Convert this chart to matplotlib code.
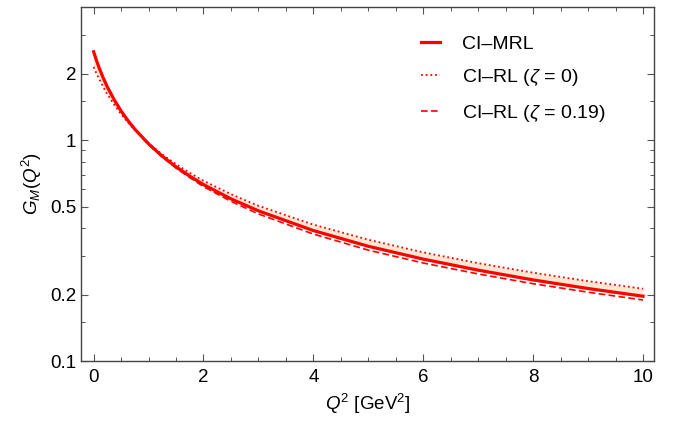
import matplotlib
matplotlib.use('Agg')
import matplotlib.pyplot as plt
from matplotlib.ticker import FixedLocator, NullFormatter

plt.rcParams['font.family'] = ['Liberation Sans', 'DejaVu Sans']
plt.rcParams['mathtext.fontset'] = 'custom'
plt.rcParams['mathtext.rm'] = 'Liberation Sans'
plt.rcParams['mathtext.it'] = 'Liberation Sans:italic'

# Q^2 grid [GeV^2] and G_M values
q2 = [0, 0.05, 0.1, 0.175, 0.25, 0.375, 0.5, 0.625, 0.75, 1, 1.25, 1.5, 1.75,
      2, 2.5, 3, 4, 5, 6, 7, 8, 9, 10]
g_mrl = [2.52, 2.308, 2.132, 1.918, 1.746, 1.526, 1.359, 1.229, 1.124, 0.964,
         0.847, 0.758, 0.688, 0.630, 0.543, 0.479, 0.390, 0.331, 0.2895,
         0.258, 0.233, 0.213, 0.1966]
g_rl0 = [2.15, 2.014, 1.896, 1.745, 1.619, 1.448, 1.313, 1.204, 1.113, 0.970,
         0.863, 0.780, 0.712, 0.656, 0.570, 0.505, 0.415, 0.3545, 0.3107,
         0.2775, 0.2513, 0.2301, 0.2126]
g_rl19 = [2.52, 2.305, 2.13, 1.916, 1.745, 1.523, 1.355, 1.224, 1.118, 0.955,
          0.84, 0.748, 0.678, 0.617, 0.529, 0.464, 0.376, 0.318, 0.278,
          0.248, 0.224, 0.205, 0.189]

labels = ['CI\u2013MRL', 'CI\u2013RL ($\\zeta$ = 0)', 'CI\u2013RL ($\\zeta$ = 0.19)']
red = '#ff0000'

fig = plt.figure(figsize=(6.88, 4.21), dpi=100)
ax = fig.add_axes([0.1177, 0.1425, 0.9506 - 0.1177, 0.9834 - 0.1425])

ax.fill_between(q2, g_mrl, g_rl0, color='#fae8d2', lw=0)
ax.plot(q2, g_mrl, color=red, lw=2.3, label=labels[0])
ax.plot(q2, g_rl0, color=red, lw=1.3, ls=(0, (1, 1.6)), label=labels[1])
ax.plot(q2, g_rl19, color=red, lw=1.2, ls=(0, (4, 2)), label=labels[2])

ax.set_yscale('log')
ax.set_xlim(-0.23, 10.2)
ax.set_ylim(0.1, 4.02)

ax.set_xticks([0, 2, 4, 6, 8, 10])
ax.set_xticklabels(['0', '2', '4', '6', '8', '10'])
ax.xaxis.set_minor_locator(FixedLocator([0.5 * i for i in range(21)]))
ax.yaxis.set_major_locator(FixedLocator([0.1, 0.2, 0.5, 1, 2]))
ax.set_yticklabels(['0.1', '0.2', '0.5', '1', '2'])
ax.yaxis.set_minor_locator(FixedLocator([0.15, 0.3, 0.4, 0.6, 0.7, 0.8, 0.9, 1.5, 3]))
ax.yaxis.set_minor_formatter(NullFormatter())

ax.tick_params(which='both', direction='in', top=True, right=True,
               color='#555555', labelsize=13.5, labelcolor='black')
ax.tick_params(which='major', length=5, width=0.8)
ax.tick_params(which='minor', length=3, width=0.7)
ax.tick_params(axis='x', pad=6)
for s in ax.spines.values():
    s.set_color('#444444')
    s.set_linewidth(1.0)

ax.set_xlabel('$Q^2$ [GeV$^2$]', fontsize=13.5, labelpad=4)
ax.set_ylabel('$G_M(Q^2)$', fontsize=13.5, labelpad=4)

ax.legend(loc='upper left', bbox_to_anchor=(0.593, 0.921), frameon=False,
          fontsize=14, handlelength=1.0, handletextpad=1.1, labelspacing=0.75,
          borderpad=0, borderaxespad=0)

fig.savefig('out.png', dpi=100)
